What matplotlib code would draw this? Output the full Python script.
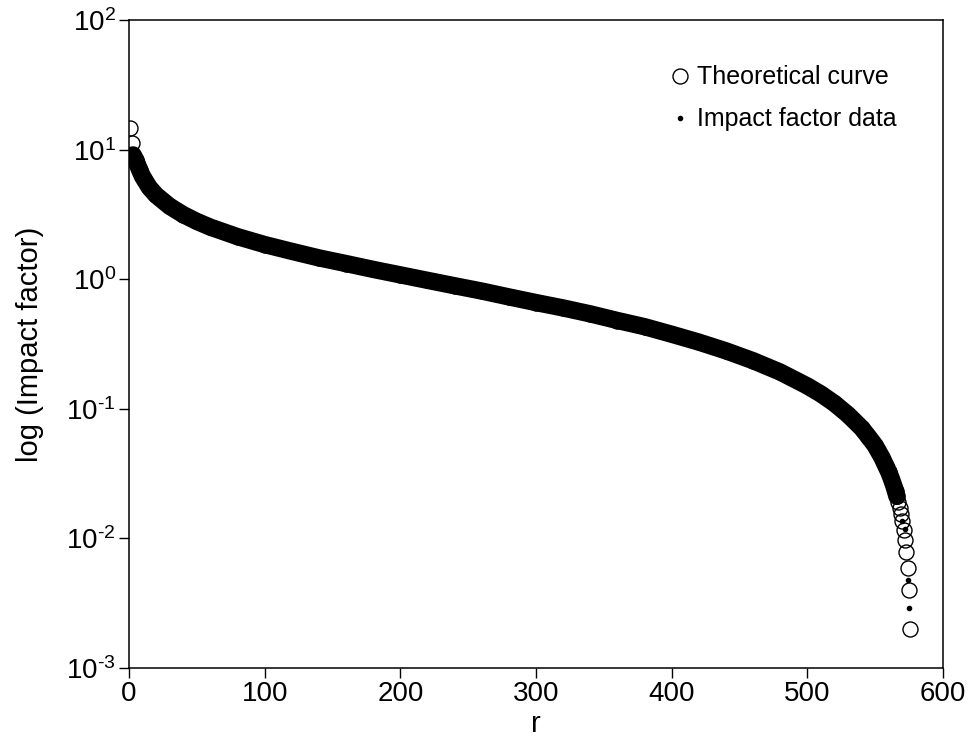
import numpy as np
import matplotlib
matplotlib.use('Agg')
import matplotlib.pyplot as plt

plt.rcParams['font.family'] = 'Liberation Sans'
plt.rcParams['mathtext.fontset'] = 'custom'
plt.rcParams['mathtext.rm'] = 'Liberation Sans'
plt.rcParams['mathtext.it'] = 'Liberation Sans:italic'

# theoretical curve (open circles)
theory_rank = [1, 2, 3, 4, 5, 6, 8, 10, 15, 20, 30, 40, 50, 60, 80, 100,
               120, 140, 160, 180, 200, 220, 240, 260, 280, 300, 320, 340,
               360, 380, 400, 420, 440, 460, 480, 500, 510, 520, 530, 540,
               545, 550, 555, 558, 560, 562, 564, 565, 566, 567, 568, 569,
               570, 571, 572, 573, 574, 575, 576]
theory_value = [14.6, 11.3, 9.1, 8.7, 8.3, 7.8, 6.9, 6.2, 5.1, 4.45, 3.65,
                3.15, 2.79, 2.52, 2.13, 1.85, 1.64, 1.46, 1.32, 1.19, 1.08,
                0.98, 0.89, 0.81, 0.73, 0.66, 0.60, 0.54, 0.48, 0.43, 0.376,
                0.327, 0.280, 0.235, 0.192, 0.150, 0.130, 0.110, 0.090,
                0.071, 0.061, 0.052, 0.042, 0.036, 0.0325, 0.0287, 0.0249,
                0.0230, 0.0211, 0.0192, 0.0173, 0.0154, 0.0135, 0.0116,
                0.0097, 0.0078, 0.0059, 0.0040, 0.0020]

# impact factor data (small dots)
data_rank = [1, 2, 3, 5, 8, 10, 15, 20, 30, 40, 50, 60, 80, 100, 120, 140,
             160, 180, 200, 220, 240, 260, 280, 300, 320, 340, 360, 380, 400,
             420, 440, 460, 480, 500, 520, 540, 550, 560, 565, 570, 572, 574,
             575]
data_value = [9.0, 8.8, 8.6, 8.0, 7.0, 6.4, 5.2, 4.5, 3.7, 3.2, 2.8, 2.5,
              2.1, 1.86, 1.63, 1.45, 1.31, 1.19, 1.08, 0.98, 0.89, 0.81,
              0.73, 0.66, 0.60, 0.54, 0.48, 0.43, 0.375, 0.325, 0.28, 0.235,
              0.19, 0.15, 0.11, 0.07, 0.051, 0.032, 0.022, 0.0135, 0.0118,
              0.0048, 0.0029]

x_ticks = [0, 100, 200, 300, 400, 500, 600]
y_ticks = [1e-3, 1e-2, 1e-1, 1e0, 1e1, 1e2]
y_tick_labels = [r'$\mathregular{10^{\text{-}3}}$',
                 r'$\mathregular{10^{\text{-}2}}$',
                 r'$\mathregular{10^{\text{-}1}}$',
                 r'$\mathregular{10^{0}}$',
                 r'$\mathregular{10^{1}}$',
                 r'$\mathregular{10^{2}}$']

fig = plt.figure(figsize=(9.69, 7.44), dpi=100)
ax = fig.add_axes([0.1331, 0.1022, 0.8401, 0.8709])

r = np.array(theory_rank)
v = np.array(theory_value)
band = (r >= 3) & (r <= 566)

# the circles overlap so densely that they form a solid band
ax.plot(r[band], v[band], color='black', linewidth=12.5,
        solid_capstyle='round', solid_joinstyle='round', zorder=2)
ax.plot(r, v, linestyle='none', marker='o', markersize=10.8,
        markerfacecolor='none', markeredgecolor='black',
        markeredgewidth=1.0, label='Theoretical curve', zorder=3)
ax.plot(data_rank, data_value, linestyle='none', marker='o', markersize=3,
        color='black', label='Impact factor data', zorder=4)

ax.set_yscale('log')
ax.set_xlim(0, 600)
ax.set_ylim(1e-3, 1e2)
ax.set_xticks(x_ticks)
ax.set_yticks(y_ticks)
ax.set_yticklabels(y_tick_labels)
ax.yaxis.set_minor_locator(matplotlib.ticker.NullLocator())
ax.tick_params(axis='both', direction='out', length=7.5, width=1.0,
               labelsize=20, pad=2, top=False, right=False)

for s in ax.spines.values():
    s.set_linewidth(1.1)

ax.set_xlabel('r', fontsize=21, labelpad=2)
ax.set_ylabel('log (Impact factor)', fontsize=21, labelpad=16)

ax.legend(loc='upper left', bbox_to_anchor=(0.6615, 0.930), frameon=False,
          fontsize=18, borderpad=0, handlelength=1.0, handletextpad=0.2,
          labelspacing=0.72, borderaxespad=0)

fig.savefig('out.png', dpi=100)
